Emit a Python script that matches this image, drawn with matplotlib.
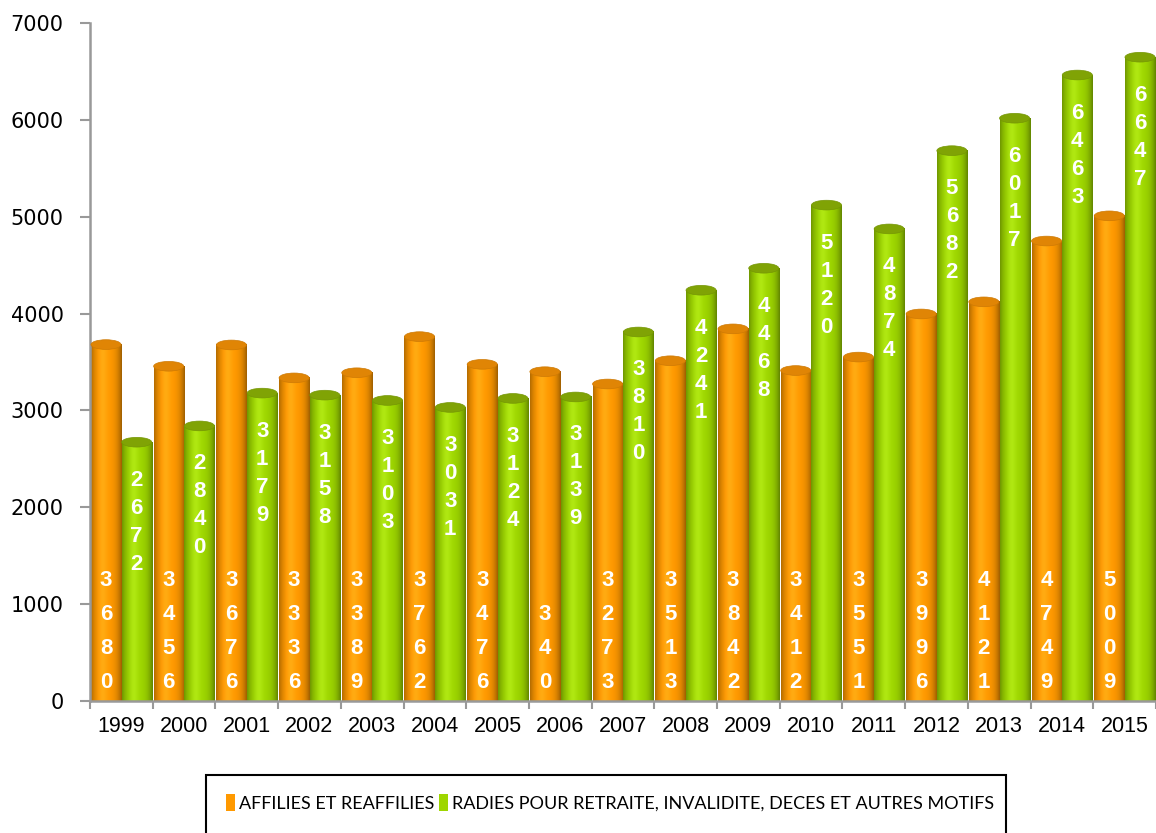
import numpy as np
import matplotlib
matplotlib.use("Agg")
import matplotlib.pyplot as plt
from matplotlib.patches import Ellipse, Rectangle, Patch

years = ['1999', '2000', '2001', '2002', '2003', '2004', '2005', '2006', '2007',
         '2008', '2009', '2010', '2011', '2012', '2013', '2014', '2015']
affilies = [3680, 3456, 3676, 3336, 3389, 3762, 3476, 3400, 3273,
            3513, 3842, 3412, 3551, 3996, 4121, 4749, 5009]
affilies_text = ['3680', '3456', '3676', '3336', '3389', '3762', '3476', '340', '3273',
                 '3513', '3842', '3412', '3551', '3996', '4121', '4749', '5009']
radies = [2672, 2840, 3179, 3158, 3103, 3031, 3124, 3139, 3810,
          4241, 4468, 5120, 4874, 5682, 6017, 6463, 6647]
radies_text = [str(v) for v in radies]

label_affilies = 'AFFILIES ET REAFFILIES'
label_radies = 'RADIES POUR RETRAITE, INVALIDITE, DECES ET AUTRES MOTIFS'

ORANGE = np.array([1.0, 0.60, 0.0])
ORANGE_TOP = np.array([0.88, 0.52, 0.02])
GREEN = np.array([0.62, 0.84, 0.0])
GREEN_TOP = np.array([0.50, 0.64, 0.02])

W, H = 1156, 833
fig = plt.figure(figsize=(W / 100, H / 100), dpi=100)
ax = fig.add_axes([90 / W, (H - 701) / H, 1 - 90 / W, 678 / H])


def cylinder_image(base):
    t = np.linspace(0, 1, 80)
    d = (t - 0.48) / 0.52
    f = 1.0 - 0.38 * np.abs(d) ** 3
    hl = 0.07 * np.exp(-((t - 0.38) / 0.15) ** 2)
    img = base[None, :] * f[:, None] + hl[:, None]
    img = np.clip(img, 0, 1)
    return np.repeat(img[None, :, :], 2, axis=0)


def draw_cylinder(xc, h, w, base, top):
    ax.imshow(cylinder_image(base), extent=[xc - w / 2, xc + w / 2, 0, h],
              aspect='auto', interpolation='bilinear', zorder=2)
    ax.add_patch(Ellipse((xc, h), w, 100, facecolor=top, edgecolor=top * 0.92,
                         lw=0.5, zorder=3))


bw = 0.48
x = np.arange(len(years))
for i in range(len(years)):
    xo = x[i] - 0.245
    xg = x[i] + 0.245
    draw_cylinder(xo, affilies[i], bw, ORANGE, ORANGE_TOP)
    draw_cylinder(xg, radies[i], bw, GREEN, GREEN_TOP)

    s = affilies_text[i]
    n = len(s)
    for k, ch in enumerate(s):
        ax.annotate(ch, (xo, 0), xytext=(0, 19 + 34 * (n - 1 - k)),
                    textcoords='offset pixels', ha='center', va='center',
                    color='white', fontsize=16, fontweight='bold',
                    family='Liberation Sans', zorder=5)
    s = radies_text[i]
    for k, ch in enumerate(s):
        ax.annotate(ch, (xg, radies[i]), xytext=(0, -38 - 28 * k),
                    textcoords='offset pixels', ha='center', va='center',
                    color='white', fontsize=16, fontweight='bold',
                    family='Liberation Sans', zorder=5)

ax.set_xlim(-0.5, len(years) - 0.5)
ax.set_ylim(0, 7000)
ax.set_yticks(range(0, 7001, 1000))
ax.set_xticks(x)
ax.set_xticklabels(years, fontsize=15.5, family='Liberation Sans')
ax.set_xticks(np.arange(-0.5, len(years), 1), minor=True)
ax.tick_params(axis='x', which='major', length=0, pad=11)
ax.tick_params(axis='x', which='minor', length=6, width=1.5, color='#999999')
ax.tick_params(axis='y', length=7, width=1.5, color='#999999', pad=12, labelsize=15)

for side in ['top', 'right']:
    ax.spines[side].set_visible(False)
for side in ['left', 'bottom']:
    ax.spines[side].set_color('#999999')
    ax.spines[side].set_linewidth(1.8)
ax.spines['bottom'].set_zorder(6)

# legend
handles = [Patch(facecolor=ORANGE, edgecolor='none'), Patch(facecolor=GREEN, edgecolor='none')]
fig.legend(handles, [label_affilies, label_radies], loc='center', ncol=2,
           bbox_to_anchor=(610 / W, 1 - 803 / H), frameon=False,
           handlelength=0.5, handleheight=1.1, handletextpad=0.2,
           columnspacing=0.3, prop={'family': 'Lato', 'size': 13})
fig.add_artist(Rectangle((206 / W, -0.05), (1006 - 206) / W, 0.05 + (H - 775) / H,
                         transform=fig.transFigure, fill=False, edgecolor='black',
                         lw=1.5, clip_on=False))

fig.savefig('out.png', dpi=100)
